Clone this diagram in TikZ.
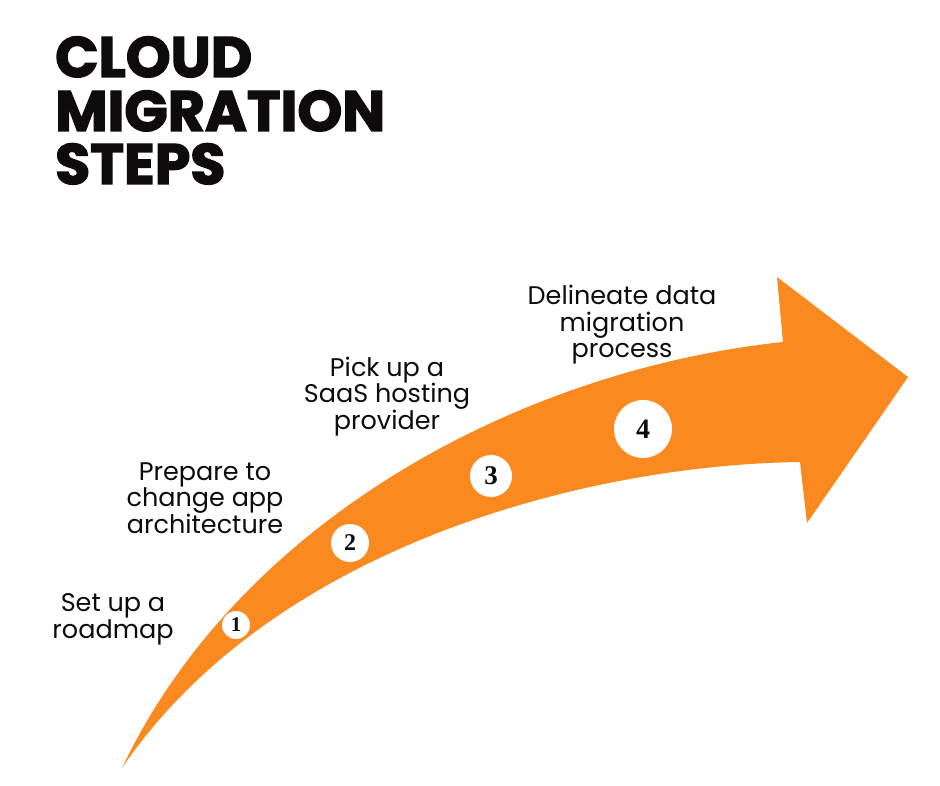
\documentclass[tikz,border=0pt]{standalone}
\usepackage{fontspec}
\setmainfont{Poppins}
\newfontfamily\numfont{Liberation Serif}
\newfontfamily\titlefont[BoldFeatures={FakeBold=2.5}]{Poppins}
\usetikzlibrary{positioning}
\definecolor{arroworange}{HTML}{FA8A20}
\definecolor{inkdark}{HTML}{0E0B0C}
\tikzset{
  steplabel/.style={align=center, inner sep=0pt, anchor=base, text=inkdark,
    font=\fontsize{25.5}{26.5}\selectfont},
  numdot/.style={circle, fill=white, inner sep=0pt, text=inkdark},
  titleline/.style={anchor=base west, inner sep=0pt, text=inkdark,
    font=\titlefont\fontsize{57}{57}\selectfont\bfseries}
}
\begin{document}
\begin{tikzpicture}[x=1pt,y=-1pt]
\useasboundingbox (0,0) rectangle (940,786);
% title
\node[titleline] (t1) at (55,77) {CLOUD};
\node[titleline] (t2) at (55,131) {MIGRATION};
\node[titleline] (t3) at (55,184) {STEPS};
% arrow
\fill[arroworange] (122,768) .. controls (240,520) and (520,370) .. (783,342)
  -- (777,277) -- (908,377) -- (807,523) -- (800,462)
  .. controls (580,465) and (270,550) .. (122,768) -- cycle;
% numbered circles
\node[numdot, minimum size=28pt, font=\numfont\bfseries\fontsize{21}{21}\selectfont] (c1) at (236,625) {1};
\node[numdot, minimum size=38pt, font=\numfont\bfseries\fontsize{24}{24}\selectfont] (c2) at (350,543) {2};
\node[numdot, minimum size=42pt, font=\numfont\bfseries\fontsize{27}{27}\selectfont] (c3) at (491,476) {3};
\node[numdot, minimum size=58pt, font=\numfont\bfseries\fontsize{28}{28}\selectfont] (c4) at (643,429) {4};
% labels (anchor base = last line's baseline)
\node[steplabel] (l1) at (113,638) {Set up a\\roadmap};
\node[steplabel] (l2) at (205,533) {Prepare to\\change app\\architecture};
\node[steplabel] (l3) at (387,429) {Pick up a\\SaaS hosting\\provider};
\node[steplabel] (l4) at (622,358) {Delineate data\\migration\\process};
\end{tikzpicture}
\end{document}
